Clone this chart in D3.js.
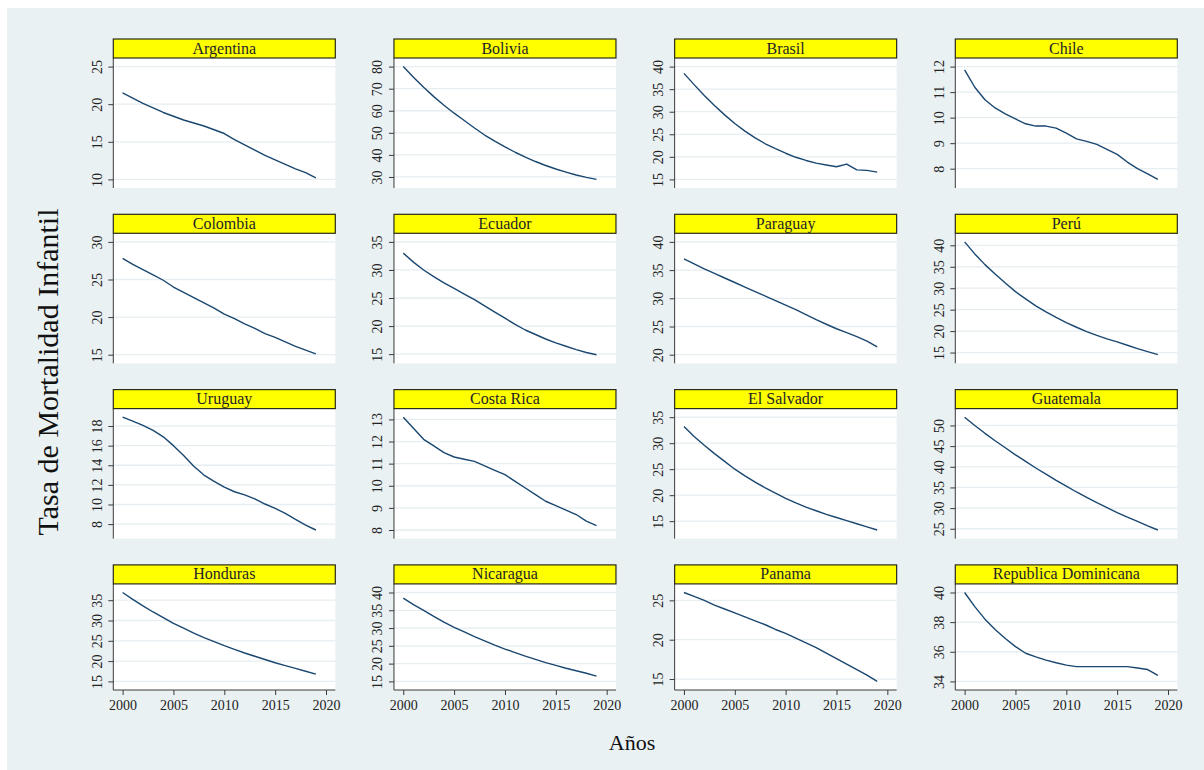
<!DOCTYPE html>
<html>
<head>
<meta charset="utf-8">
<script src="https://cdn.jsdelivr.net/npm/d3@7"></script>
<style>
  html, body { margin: 0; padding: 0; background: #ffffff; }
  svg { display: block; }
  svg text { font-family: "Liberation Serif", "Times New Roman", serif !important; }
</style>
</head>
<body>
<svg id="chart" width="1204" height="770"></svg>
<script>
// Infant mortality rate, 2000-2019, one panel per country
const years = [2000, 2001, 2002, 2003, 2004, 2005, 2006, 2007, 2008, 2009,
               2010, 2011, 2012, 2013, 2014, 2015, 2016, 2017, 2018, 2019];
const xTicks = [2000, 2005, 2010, 2015, 2020];

const countries = ["Argentina", "Bolivia", "Brasil", "Chile",
                   "Colombia", "Ecuador", "Paraguay", "Perú",
                   "Uruguay", "Costa Rica", "El Salvador", "Guatemala",
                   "Honduras", "Nicaragua", "Panama", "Republica Dominicana"];

const argentina = [21.5, 20.8, 20.1, 19.5, 18.9, 18.4, 17.9, 17.5, 17.1, 16.6,
                   16.1, 15.3, 14.6, 13.9, 13.2, 12.6, 12.0, 11.4, 10.9, 10.2];
const bolivia   = [80.0, 75.2, 70.6, 66.4, 62.5, 58.9, 55.6, 52.2, 49.0, 46.2,
                   43.6, 41.2, 39.0, 37.0, 35.2, 33.6, 32.2, 30.9, 29.8, 28.9];
const brasil    = [38.5, 36.0, 33.6, 31.4, 29.3, 27.4, 25.7, 24.2, 22.9, 21.8,
                   20.8, 19.9, 19.2, 18.6, 18.2, 17.8, 18.4, 17.1, 17.0, 16.6];
const chile     = [11.87, 11.19, 10.7, 10.38, 10.15, 9.95, 9.76, 9.67, 9.67, 9.59,
                   9.39, 9.17, 9.07, 8.95, 8.76, 8.56, 8.26, 8.0, 7.8, 7.58];
const colombia  = [27.8, 27.0, 26.3, 25.6, 24.9, 24.0, 23.3, 22.6, 21.9, 21.2,
                   20.4, 19.8, 19.1, 18.5, 17.8, 17.3, 16.7, 16.1, 15.6, 15.1];
const ecuador   = [33.0, 31.4, 30.0, 28.8, 27.7, 26.7, 25.7, 24.7, 23.6, 22.5,
                   21.4, 20.3, 19.3, 18.5, 17.7, 17.0, 16.4, 15.8, 15.3, 14.9];
const paraguay  = [37.0, 36.1, 35.2, 34.4, 33.6, 32.8, 32.0, 31.2, 30.4, 29.6,
                   28.8, 28.0, 27.1, 26.2, 25.4, 24.6, 23.9, 23.2, 22.4, 21.4];
const peru      = [40.8, 38.0, 35.5, 33.3, 31.2, 29.2, 27.5, 25.9, 24.5, 23.2,
                   22.0, 20.9, 19.9, 19.0, 18.2, 17.5, 16.7, 15.9, 15.2, 14.5];
const uruguay   = [18.9, 18.5, 18.07, 17.55, 16.9, 16.0, 15.0, 13.9, 13.0, 12.35,
                   11.77, 11.3, 10.98, 10.57, 10.05, 9.6, 9.1, 8.48, 7.9, 7.4];
const costaRica = [13.1, 12.6, 12.1, 11.8, 11.5, 11.3, 11.2, 11.1, 10.9, 10.7,
                   10.5, 10.2, 9.9, 9.6, 9.3, 9.1, 8.9, 8.7, 8.4, 8.2];
const elSalvador = [33.2, 31.3, 29.6, 28.0, 26.5, 25.0, 23.7, 22.5, 21.4, 20.4,
                    19.4, 18.5, 17.7, 17.0, 16.3, 15.7, 15.1, 14.5, 13.9, 13.3];
const guatemala = [52.0, 50.0, 48.1, 46.3, 44.6, 42.9, 41.3, 39.7, 38.2, 36.7,
                   35.3, 33.9, 32.6, 31.3, 30.1, 28.9, 27.8, 26.8, 25.7, 24.7];
const honduras  = [36.9, 35.2, 33.6, 32.1, 30.7, 29.3, 28.1, 26.9, 25.8, 24.8,
                   23.8, 22.9, 22.0, 21.2, 20.4, 19.6, 18.9, 18.2, 17.5, 16.8];
const nicaragua = [38.4, 36.6, 35.0, 33.3, 31.7, 30.2, 28.9, 27.6, 26.4, 25.2,
                   24.1, 23.1, 22.1, 21.2, 20.3, 19.5, 18.7, 18.0, 17.3, 16.5];
const panama    = [26.0, 25.5, 25.0, 24.4, 23.9, 23.4, 22.9, 22.4, 21.9, 21.3,
                   20.8, 20.2, 19.6, 19.0, 18.3, 17.6, 16.9, 16.2, 15.5, 14.7];
const repDominicana = [40.0, 39.05, 38.2, 37.5, 36.9, 36.35, 35.9, 35.65, 35.44, 35.26,
                       35.1, 35.0, 35.0, 35.0, 35.0, 35.0, 35.0, 34.9, 34.8, 34.4];

// y-axis tick labels of each panel
const ticksArgentina  = [10, 15, 20, 25];
const ticksBolivia    = [30, 40, 50, 60, 70, 80];
const ticksBrasil     = [15, 20, 25, 30, 35, 40];
const ticksChile      = [8, 9, 10, 11, 12];
const ticksColombia   = [15, 20, 25, 30];
const ticksEcuador    = [15, 20, 25, 30, 35];
const ticksParaguay   = [20, 25, 30, 35, 40];
const ticksPeru       = [15, 20, 25, 30, 35, 40];
const ticksUruguay    = [8, 10, 12, 14, 16, 18];
const ticksCostaRica  = [8, 9, 10, 11, 12, 13];
const ticksElSalvador = [15, 20, 25, 30, 35];
const ticksGuatemala  = [25, 30, 35, 40, 45, 50];
const ticksHonduras   = [15, 20, 25, 30, 35];
const ticksNicaragua  = [15, 20, 25, 30, 35, 40];
const ticksPanama     = [15, 20, 25];
const ticksRepDom     = [34, 36, 38, 40];

const seriesList = [argentina, bolivia, brasil, chile, colombia, ecuador, paraguay, peru,
                    uruguay, costaRica, elSalvador, guatemala, honduras, nicaragua, panama, repDominicana];
const tickList = [ticksArgentina, ticksBolivia, ticksBrasil, ticksChile,
                  ticksColombia, ticksEcuador, ticksParaguay, ticksPeru,
                  ticksUruguay, ticksCostaRica, ticksElSalvador, ticksGuatemala,
                  ticksHonduras, ticksNicaragua, ticksPanama, ticksRepDom];

// ---- layout ----
const W = 1204, H = 770;
const colLeft0 = 113.3, colStep = 280.67, plotW = 222;
const rowTop0 = 39, rowStep = 175.3, stripH = 19, plotH = 130;
const lastRowBottom = 690;
const padX = 9.3, padY = 8.6;

const serif = '"Liberation Serif", "Times New Roman", serif';
const bg = "#eaf1f3";
const grid = "#e6eef1";
const lineColor = "#1a476f";
const axisColor = "#3a3a3a";
const textColor = "#222222";

const svg = d3.select("#chart");

// graph region
svg.append("rect").attr("x", 0).attr("y", 0).attr("width", W).attr("height", H).attr("fill", "#ffffff");
svg.append("rect").attr("x", 7).attr("y", 8).attr("width", W - 7).attr("height", H - 8).attr("fill", bg);

countries.forEach((name, i) => {
  const r = Math.floor(i / 4), c = i % 4;
  const left = colLeft0 + c * colStep;
  const stripTop = rowTop0 + r * rowStep;
  const top = stripTop + stripH;
  const bottom = r === 3 ? lastRowBottom : top + plotH;
  const values = seriesList[i];
  const ticks = tickList[i];

  const lo = Math.min(d3.min(values), d3.min(ticks));
  const hi = Math.max(d3.max(values), d3.max(ticks));

  const x = d3.scaleLinear().domain([2000, 2020]).range([left + padX, left + plotW - padX]);
  const y = d3.scaleLinear().domain([lo, hi]).range([bottom - padY, top + padY]);

  const g = svg.append("g");

  // plot area
  g.append("rect").attr("x", left).attr("y", top).attr("width", plotW).attr("height", bottom - top)
    .attr("fill", "#ffffff");

  // horizontal gridlines
  g.selectAll("line.grid").data(ticks).enter().append("line")
    .attr("class", "grid")
    .attr("x1", left).attr("x2", left + plotW)
    .attr("y1", d => y(d)).attr("y2", d => y(d))
    .attr("stroke", grid).attr("stroke-width", 1.3);

  // y axis
  const yAxis = d3.axisLeft(y).tickValues(ticks).tickSize(5).tickPadding(6).tickFormat(d3.format("d"));
  const ya = g.append("g").attr("transform", `translate(${left},0)`).call(yAxis)
    .attr("font-family", null).attr("font-size", null);
  ya.select(".domain").attr("d", `M0,${top}V${bottom}`).attr("stroke", axisColor);
  ya.selectAll(".tick line").attr("stroke", axisColor);
  ya.selectAll(".tick text")
    .style("font-family", serif)
    .style("font-size", "14px")
    .attr("fill", textColor)
    .attr("x", 0).attr("dy", 0)
    .attr("text-anchor", "middle")
    .attr("transform", "translate(-11.6,0) rotate(-90)");

  // x axis on the bottom row
  if (r === 3) {
    const xAxis = d3.axisBottom(x).tickValues(xTicks).tickSize(5).tickPadding(4).tickFormat(d3.format("d"));
    const xa = g.append("g").attr("transform", `translate(0,${bottom})`).call(xAxis)
      .attr("font-family", null).attr("font-size", null);
    xa.select(".domain").attr("d", `M${left},0H${left + plotW}`).attr("stroke", axisColor);
    xa.selectAll(".tick line").attr("stroke", axisColor);
    xa.selectAll(".tick text")
      .style("font-family", serif)
      .style("font-size", "14px")
      .attr("fill", textColor)
      .attr("y", 20).attr("dy", 0);
  }

  // series line
  const line = d3.line().x((d, k) => x(years[k])).y(d => y(d));
  g.append("path").datum(values)
    .attr("d", line)
    .attr("fill", "none")
    .attr("stroke", lineColor)
    .attr("stroke-width", 1.4)
    .attr("stroke-linejoin", "round");

  // title strip
  g.append("rect").attr("x", left).attr("y", stripTop).attr("width", plotW).attr("height", stripH)
    .attr("fill", "#ffff00").attr("stroke", "#2b2b1a").attr("stroke-width", 1.2);
  g.append("text").attr("x", left + plotW / 2).attr("y", stripTop + 14.5)
    .attr("text-anchor", "middle")
    .style("font-family", serif).style("font-size", "16px")
    .attr("fill", "#1e1e2a")
    .text(name);
});

// axis titles
svg.append("text")
  .attr("transform", "translate(58,372) rotate(-90)")
  .attr("text-anchor", "middle")
  .style("font-family", serif).style("font-size", "30px")
  .attr("fill", "#111")
  .text("Tasa de Mortalidad Infantil");

svg.append("text")
  .attr("x", 632).attr("y", 750)
  .attr("text-anchor", "middle")
  .style("font-family", serif).style("font-size", "22px")
  .attr("fill", "#111")
  .text("Años");
</script>
</body>
</html>
